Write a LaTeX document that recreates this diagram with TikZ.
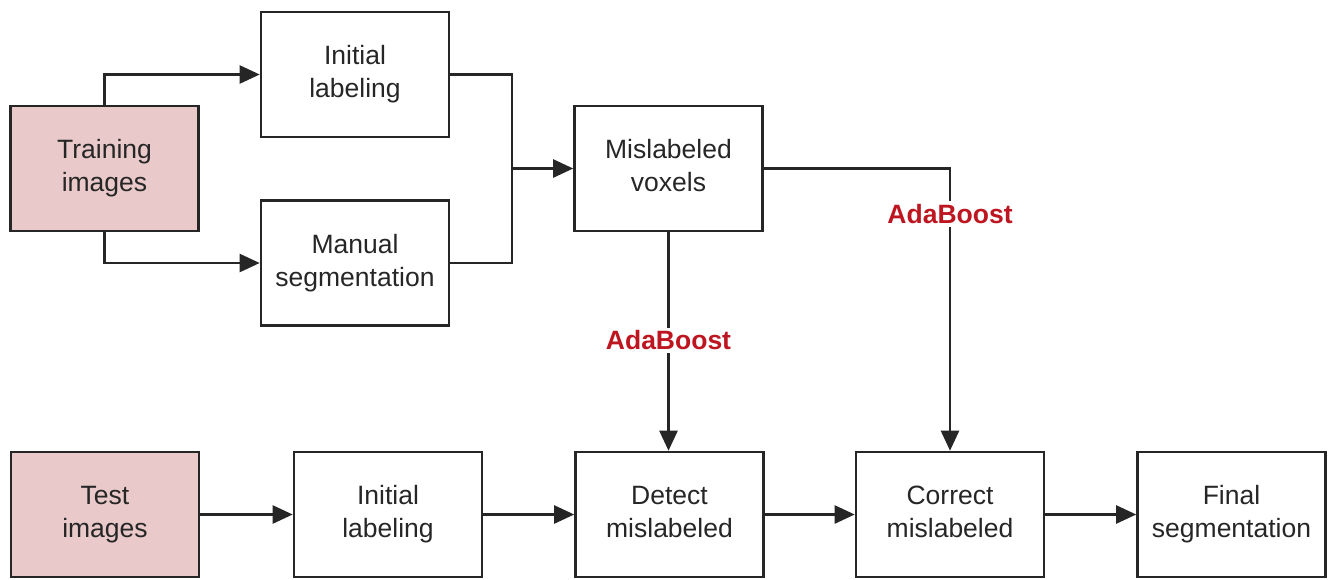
\documentclass[tikz,border=0pt]{standalone}
\usepackage{fontspec}
\setmainfont{Liberation Sans}
\usetikzlibrary{arrows.meta}
\definecolor{boxpink}{RGB}{233,201,201}
\definecolor{adared}{RGB}{190,22,32}
\begin{document}
\begin{tikzpicture}[x=1pt,y=-1pt,
  box/.style={draw=black!85, line width=2.6pt, minimum width=188pt, minimum height=125pt, inner sep=0pt,
     align=center, font=\fontsize{26.5}{33}\selectfont, text=black!85},
  inbox/.style={box, fill=boxpink},
  conn/.style={draw=black!85, line width=2.4pt},
  arr/.style={conn, -{Triangle[length=20pt,width=18pt]}},
  ada/.style={fill=white, inner sep=3pt, text=adared, font=\fontsize{26.5}{30}\selectfont\bfseries}
]
\useasboundingbox (0,0) rectangle (1337,579);
% top row
\node[inbox] (train) at (104.5,168.5) {Training\strut\\images\strut};
\node[box] (init1) at (355,74.5) {Initial\strut\\labeling\strut};
\node[box] (manual) at (355,263) {Manual\strut\\segmentation\strut};
\node[box] (mis) at (668.5,168.5) {Mislabeled\strut\\voxels\strut};
% bottom row
\node[inbox] (test) at (105,514.5) {Test\strut\\images\strut};
\node[box] (init2) at (388,514.5) {Initial\strut\\labeling\strut};
\node[box] (detect) at (669.5,514.5) {Detect\strut\\mislabeled\strut};
\node[box] (correct) at (950,514.5) {Correct\strut\\mislabeled\strut};
\node[box] (final) at (1231.5,514.5) {Final\strut\\segmentation\strut};
% connectors top
\draw[arr] (train.north) |- (init1.west);
\draw[arr] (train.south) |- (manual.west);
\coordinate (merge) at (512,168.5);
\draw[conn] (init1.east) -| (merge);
\draw[conn] (manual.east) -| (merge);
\draw[arr] (merge) -- (mis.west);
\draw[arr] (mis.east) -| node[ada, pos=0.581] {AdaBoost} (correct.north);
\draw[arr] (mis.south) -- node[ada, pos=0.495] {AdaBoost} (mis.south |- detect.north);
% connectors bottom
\draw[arr] (test) -- (init2);
\draw[arr] (init2) -- (detect);
\draw[arr] (detect) -- (correct);
\draw[arr] (correct) -- (final);
\end{tikzpicture}
\end{document}
